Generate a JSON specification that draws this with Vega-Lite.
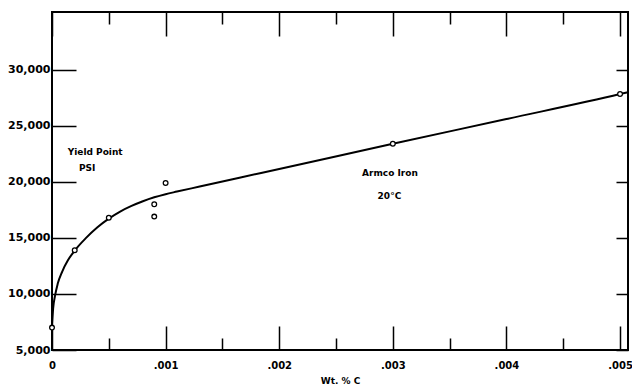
{
  "$schema": "https://vega.github.io/schema/vega-lite/v6.json",
  "width": 576,
  "height": 338,
  "autosize": {"type": "none"},
  "padding": {"left": 52, "top": 12, "right": 4, "bottom": 37},
  "background": "white",
  "config": {
    "view": {"stroke": "black", "strokeWidth": 2},
    "font": "DejaVu Sans",
    "axis": {
      "domain": false,
      "ticks": false,
      "labelFont": "DejaVu Sans",
      "labelFontWeight": "bold",
      "labelColor": "black",
      "titleFont": "DejaVu Sans",
      "titleFontWeight": "bold",
      "titleColor": "black",
      "labelFlush": false,
      "labelOverlap": false,
      "grid": true,
      "gridColor": "black",
      "gridOpacity": 1,
      "gridWidth": 1.5
    }
  },
  "datasets": {
    "curve": [
      {"x": 0.0, "y": 7000},
      {"x": 0.00001, "y": 8700},
      {"x": 0.000026, "y": 9800},
      {"x": 0.00005, "y": 10900},
      {"x": 0.00009, "y": 12000},
      {"x": 0.00014, "y": 13000},
      {"x": 0.0002, "y": 13870},
      {"x": 0.0003, "y": 15000},
      {"x": 0.0004, "y": 15950},
      {"x": 0.0005, "y": 16720},
      {"x": 0.0006, "y": 17350},
      {"x": 0.0007, "y": 17850},
      {"x": 0.0008, "y": 18270},
      {"x": 0.0009, "y": 18620},
      {"x": 0.001, "y": 18900},
      {"x": 0.0011, "y": 19130},
      {"x": 0.0013, "y": 19580},
      {"x": 0.00165, "y": 20370},
      {"x": 0.002, "y": 21150},
      {"x": 0.003, "y": 23400},
      {"x": 0.004, "y": 25600},
      {"x": 0.005, "y": 27830},
      {"x": 0.00507, "y": 28000}
    ],
    "points": [
      {"x": 0.0, "y": 7000},
      {"x": 0.0002, "y": 13900},
      {"x": 0.0005, "y": 16800},
      {"x": 0.0009, "y": 18000},
      {"x": 0.0009, "y": 16900},
      {"x": 0.001, "y": 19900},
      {"x": 0.003, "y": 23400},
      {"x": 0.005, "y": 27830}
    ],
    "notes": [
      {"x": 0.00038, "y": 22700, "label": "Yield Point"},
      {"x": 0.00031, "y": 21250, "label": "PSI"},
      {"x": 0.002975, "y": 20800, "label": "Armco Iron"},
      {"x": 0.00297, "y": 18750, "label": "20°C"}
    ]
  },
  "encoding": {
    "x": {
      "field": "x",
      "type": "quantitative",
      "scale": {"domain": [0, 0.00507], "nice": false, "zero": false},
      "axis": {
        "title": "Wt. % C",
        "titleFontSize": 9,
        "titlePadding": 6,
        "labelFontSize": 10,
        "labelPadding": 10,
        "values": [0, 0.0005, 0.001, 0.0015, 0.002, 0.0025, 0.003, 0.0035, 0.004, 0.0045, 0.005],
        "labelExpr": "datum.value == 0 ? '0' : (round(datum.value * 2000) % 2 == 1 ? '' : replace(format(datum.value, '.3f'), '0.', '.'))",
        "gridDash": {
          "condition": {"test": "round(datum.value * 2000) % 2 == 1", "value": [12, 314, 12]},
          "value": [24, 290, 24]
        }
      }
    },
    "y": {
      "field": "y",
      "type": "quantitative",
      "scale": {"domain": [5000, 35150], "nice": false, "zero": false},
      "axis": {
        "title": null,
        "labelFontSize": 11,
        "labelPadding": 2,
        "values": [5000, 10000, 15000, 20000, 25000, 30000],
        "format": ",d",
        "gridDash": [24, 540, 12]
      }
    }
  },
  "layer": [
    {
      "data": {"name": "curve"},
      "mark": {"type": "line", "color": "black", "strokeWidth": 2, "interpolate": "monotone"}
    },
    {
      "data": {"name": "points"},
      "mark": {"type": "point", "shape": "circle", "filled": true, "fill": "white", "stroke": "black", "strokeWidth": 1.3, "size": 22, "opacity": 1}
    },
    {
      "data": {"name": "notes"},
      "mark": {"type": "text", "font": "DejaVu Sans", "fontWeight": "bold", "fontSize": 9, "color": "black", "align": "center", "baseline": "middle"},
      "encoding": {"text": {"field": "label"}}
    }
  ]
}
